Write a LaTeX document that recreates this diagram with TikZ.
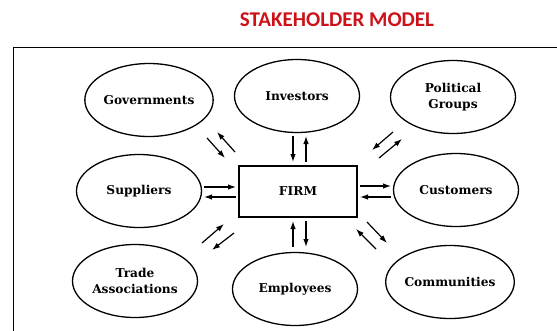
\documentclass[tikz,border=0pt]{standalone}
\usepackage{fontspec}
\usetikzlibrary{shapes.geometric,arrows.meta}
\newfontfamily\titlefont{Carlito}
\newfontfamily\slabfont{DejaVu Serif}
\definecolor{titlered}{RGB}{204,18,24}
\begin{document}
\begin{tikzpicture}[x=1pt,y=-1pt,
  stake/.style={ellipse, draw, line width=1.3pt, inner sep=0pt,
    minimum width=125pt, minimum height=73pt, align=center,
    font=\slabfont\bfseries\fontsize{12.2}{16}\selectfont},
  firmbox/.style={draw, line width=1.4pt, minimum width=118pt, minimum height=51pt,
    font=\slabfont\bfseries\fontsize{12.2}{16}\selectfont},
  arr/.style={line width=1.2pt, -{Latex[length=8pt,width=5.5pt]}},
  frameline/.style={line width=1.7pt}]
\useasboundingbox (0,0) rectangle (557,330);
\node[font=\titlefont\bfseries\fontsize{21}{25}\selectfont, text=titlered] (title) at (337,20) {STAKEHOLDER MODEL};
\coordinate (fbl) at (13.5,335);
\coordinate (ftl) at (13.5,47.5);
\coordinate (ftr) at (560,47.5);
\draw[frameline] (fbl) -- (ftl) -- (ftr);

\node[stake] (gov) at (149,100) {Governments};
\node[stake] (inv) at (297,96) {Investors};
\node[stake] (pol) at (453,97) {Political\\Groups};
\node[stake] (sup) at (139,191) {Suppliers};
\node[stake] (cus) at (456,190) {Customers};
\node[stake] (tra) at (135,281) {Trade\\Associations};
\node[stake] (emp) at (295,289) {Employees};
\node[stake] (com) at (450,282) {Communities};
\node[firmbox] (firm) at (298,191.5) {FIRM};

% Investors
\coordinate (i1a) at (293,136); \coordinate (i1b) at (293,162);
\coordinate (i2a) at (306,162); \coordinate (i2b) at (306,136);
\draw[arr] (i1a) -- (i1b); \draw[arr] (i2a) -- (i2b);
% Employees
\coordinate (e1a) at (293,247); \coordinate (e1b) at (293,221);
\coordinate (e2a) at (306,221); \coordinate (e2b) at (306,247);
\draw[arr] (e1a) -- (e1b); \draw[arr] (e2a) -- (e2b);
% Suppliers
\coordinate (s1a) at (204,187); \coordinate (s1b) at (236,187);
\coordinate (s2a) at (236,197); \coordinate (s2b) at (204,197);
\draw[arr] (s1a) -- (s1b); \draw[arr] (s2a) -- (s2b);
% Customers
\coordinate (c1a) at (360,186); \coordinate (c1b) at (391,186);
\coordinate (c2a) at (391,197); \coordinate (c2b) at (360,197);
\draw[arr] (c1a) -- (c1b); \draw[arr] (c2a) -- (c2b);
% Governments
\coordinate (g1a) at (207,138); \coordinate (g1b) at (225,158);
\coordinate (g2a) at (235,152); \coordinate (g2b) at (217,132);
\draw[arr] (g1a) -- (g1b); \draw[arr] (g2a) -- (g2b);
% Political Groups
\coordinate (p1a) at (393,132); \coordinate (p1b) at (372,150);
\coordinate (p2a) at (379,158); \coordinate (p2b) at (402,139);
\draw[arr] (p1a) -- (p1b); \draw[arr] (p2a) -- (p2b);
% Trade Associations
\coordinate (t1a) at (202,243); \coordinate (t1b) at (224,224);
\coordinate (t2a) at (234,233); \coordinate (t2b) at (212,250);
\draw[arr] (t1a) -- (t1b); \draw[arr] (t2a) -- (t2b);
% Communities
\coordinate (m1a) at (367,222); \coordinate (m1b) at (387,243);
\coordinate (m2a) at (376,249); \coordinate (m2b) at (356,229);
\draw[arr] (m1a) -- (m1b); \draw[arr] (m2a) -- (m2b);
\end{tikzpicture}
\end{document}
